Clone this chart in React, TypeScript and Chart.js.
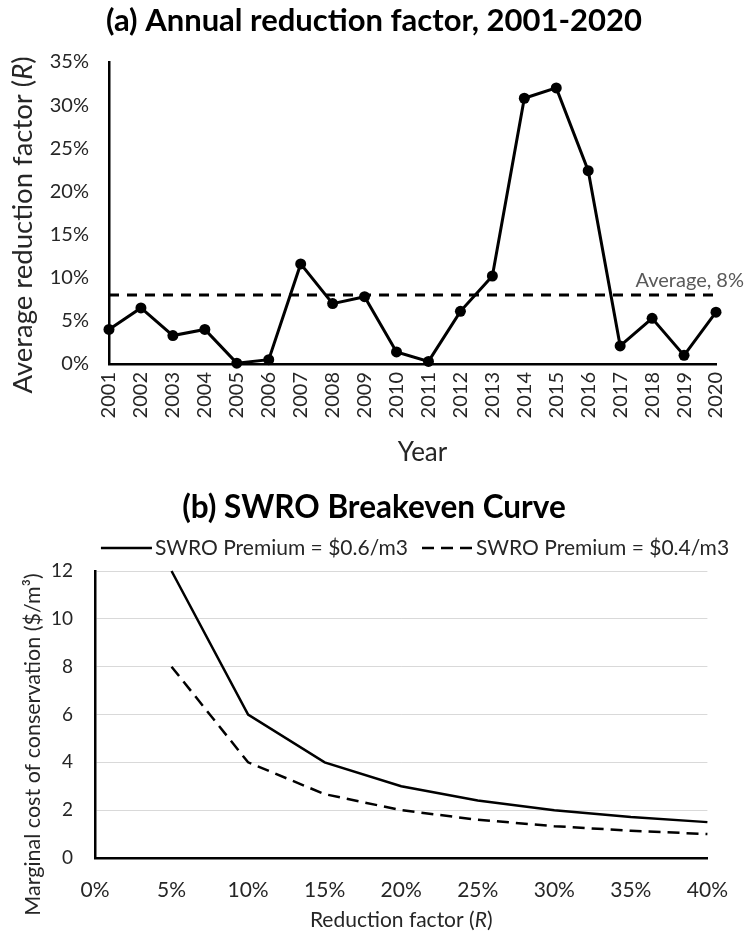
import React, { useEffect, useRef } from "react";
import { Chart, registerables } from "chart.js";

Chart.register(...registerables);

// ---------- data ----------
const YEARS = [
  "2001", "2002", "2003", "2004", "2005", "2006", "2007", "2008", "2009", "2010",
  "2011", "2012", "2013", "2014", "2015", "2016", "2017", "2018", "2019", "2020",
];
const REDUCTION_PCT = [
  4.0, 6.5, 3.3, 4.0, 0.1, 0.5, 11.6, 7.0, 7.8, 1.4,
  0.3, 6.1, 10.2, 30.8, 32.0, 22.4, 2.1, 5.3, 1.0, 6.0,
];
const AVERAGE_PCT = 8;
const AVERAGE_LABEL = "Average, 8%";

const R_PCT = [5, 10, 15, 20, 25, 30, 35, 40];
const COST_PREMIUM_06 = [12, 6, 4, 3, 2.4, 2, 1.71, 1.5];
const COST_PREMIUM_04 = [8, 4, 2.67, 2, 1.6, 1.33, 1.14, 1.0];
const SERIES_LABELS = ["SWRO Premium = $0.6/m3", "SWRO Premium = $0.4/m3"];

const TITLE_A = "(a) Annual reduction factor, 2001-2020";
const TITLE_B = "(b) SWRO Breakeven Curve";

const FONT = "Lato, 'Open Sans', sans-serif";
const TEXT = "#262626";

type Part = { text: string; italic?: boolean };

function drawRich(
  ctx: CanvasRenderingContext2D,
  parts: Part[],
  cx: number,
  cy: number,
  size: number,
  weight: string,
  color: string,
  rotate: boolean
) {
  ctx.save();
  ctx.translate(cx, cy);
  if (rotate) ctx.rotate(-Math.PI / 2);
  const fonts = parts.map((p) => `${p.italic ? "italic " : ""}${weight} ${size}px ${FONT}`);
  let total = 0;
  const widths = parts.map((p, i) => {
    ctx.font = fonts[i];
    const w = ctx.measureText(p.text).width;
    total += w;
    return w;
  });
  let x = -total / 2;
  ctx.fillStyle = color;
  ctx.textBaseline = "middle";
  ctx.textAlign = "left";
  parts.forEach((p, i) => {
    ctx.font = fonts[i];
    ctx.fillText(p.text, x, 0);
    x += widths[i];
  });
  ctx.restore();
}

const textPluginA = {
  id: "textA",
  beforeDatasetsDraw(chart: any) {
    const { ctx, chartArea } = chart;
    const y = chart.scales.y.getPixelForValue(AVERAGE_PCT);
    ctx.save();
    ctx.strokeStyle = "#000";
    ctx.lineWidth = 3;
    ctx.setLineDash([10, 8]);
    ctx.beginPath();
    ctx.moveTo(chartArea.left, y);
    ctx.lineTo(chartArea.right, y);
    ctx.stroke();
    ctx.restore();
    ctx.save();
    ctx.font = `20px ${FONT}`;
    ctx.fillStyle = "#595959";
    ctx.textAlign = "right";
    ctx.textBaseline = "alphabetic";
    ctx.fillText(AVERAGE_LABEL, chart.width - 4, y - 8);
    ctx.restore();
  },
  afterDraw(chart: any) {
    const { ctx, chartArea } = chart;
    drawRich(ctx, [{ text: TITLE_A }], chart.width / 2, 21, 31, "bold", "#000", false);
    drawRich(
      ctx,
      [{ text: "Average reduction factor (" }, { text: "R", italic: true }, { text: ")" }],
      23,
      (chartArea.top + chartArea.bottom) / 2 + 12,
      27.5,
      "normal",
      TEXT,
      true
    );
    drawRich(ctx, [{ text: "Year" }], (chartArea.left + chartArea.right) / 2 + 10, 453, 26, "normal", TEXT, false);
  },
};

const textPluginB = {
  id: "textB",
  afterDraw(chart: any) {
    const { ctx, chartArea } = chart;
    drawRich(ctx, [{ text: TITLE_B }], chart.width / 2, 38, 31.5, "bold", "#000", false);
    drawRich(
      ctx,
      [{ text: "Marginal cost of conservation ($/m³)" }],
      33,
      (chartArea.top + chartArea.bottom) / 2 + 30,
      21.5,
      "normal",
      TEXT,
      true
    );
    drawRich(
      ctx,
      [{ text: "Reduction factor (" }, { text: "R", italic: true }, { text: ")" }],
      (chartArea.left + chartArea.right) / 2,
      450,
      21,
      "normal",
      TEXT,
      false
    );
    // legend from dataset definitions
    const ds = chart.data.datasets;
    const lineW = 51;
    const gapLine = 3;
    const gapItem = 14;
    ctx.save();
    ctx.font = `21px ${FONT}`;
    const textW = ds.map((d: any) => ctx.measureText(d.label).width);
    const total =
      ds.length * (lineW + gapLine) + textW.reduce((a: number, b: number) => a + b, 0) + gapItem * (ds.length - 1);
    let x = 415 - total / 2;
    const ly = 78;
    ds.forEach((d: any, i: number) => {
      ctx.strokeStyle = d.borderColor;
      ctx.lineWidth = d.borderWidth;
      ctx.setLineDash(d.borderDash || []);
      ctx.beginPath();
      ctx.moveTo(x, ly);
      ctx.lineTo(x + lineW, ly);
      ctx.stroke();
      x += lineW + gapLine;
      ctx.setLineDash([]);
      ctx.fillStyle = TEXT;
      ctx.textBaseline = "middle";
      ctx.textAlign = "left";
      ctx.fillText(d.label, x, ly);
      x += textW[i] + gapItem;
    });
    ctx.restore();
  },
};

function ChartA() {
  const ref = useRef<HTMLCanvasElement>(null);
  useEffect(() => {
    if (!ref.current) return;
    const chart = new Chart(ref.current, {
      type: "line",
      data: {
        labels: YEARS,
        datasets: [
          {
            data: REDUCTION_PCT,
            borderColor: "#000",
            backgroundColor: "#000",
            borderWidth: 3,
            pointRadius: 5.5,
            pointBackgroundColor: "#000",
            pointBorderWidth: 0,
            tension: 0,
            clip: false as any,
          },
        ],
      },
      options: {
        animation: false,
        responsive: false,
        layout: { padding: { top: 62, left: 0, right: 14, bottom: 0 } },
        plugins: { legend: { display: false }, tooltip: { enabled: false }, title: { display: false } },
        scales: {
          x: {
            offset: false,
            grid: { display: false, drawTicks: false },
            border: { display: true, color: "#000", width: 2.5 },
            ticks: {
              autoSkip: false,
              maxRotation: 90,
              minRotation: 90,
              padding: 8,
              font: { size: 20, family: FONT },
              color: TEXT,
            },
            afterFit: (s: any) => {
              s.height = 106;
            },
          },
          y: {
            min: 0,
            max: 35,
            grid: { display: false, drawTicks: false },
            border: { display: true, color: "#000", width: 2.5 },
            ticks: {
              stepSize: 5,
              padding: 20,
              font: { size: 20, family: FONT },
              color: TEXT,
              callback: (v: any) => `${v}%`,
            },
            afterFit: (s: any) => {
              s.width = 109;
            },
          },
        },
      },
      plugins: [textPluginA],
    });
    return () => chart.destroy();
  }, []);
  return <canvas ref={ref} width={748} height={470} style={{ display: "block" }} />;
}

function ChartB() {
  const ref = useRef<HTMLCanvasElement>(null);
  useEffect(() => {
    if (!ref.current) return;
    const chart = new Chart(ref.current, {
      type: "line",
      data: {
        datasets: [
          {
            label: SERIES_LABELS[0],
            data: R_PCT.map((r, i) => ({ x: r, y: COST_PREMIUM_06[i] })),
            borderColor: "#000",
            borderWidth: 2.5,
            borderDash: [],
            pointRadius: 0,
            tension: 0,
            clip: false as any,
          },
          {
            label: SERIES_LABELS[1],
            data: R_PCT.map((r, i) => ({ x: r, y: COST_PREMIUM_04[i] })),
            borderColor: "#000",
            borderWidth: 2.5,
            borderDash: [12, 7],
            pointRadius: 0,
            tension: 0,
            clip: false as any,
          },
        ],
      },
      options: {
        animation: false,
        responsive: false,
        layout: { padding: { top: 101, left: 0, right: 27, bottom: 0 } },
        plugins: { legend: { display: false }, tooltip: { enabled: false }, title: { display: false } },
        scales: {
          x: {
            type: "linear",
            min: 0,
            max: 40,
            grid: { display: false, drawTicks: false },
            border: { display: true, color: "#000", width: 2.5 },
            ticks: {
              stepSize: 5,
              padding: 20,
              font: { size: 21, family: FONT },
              color: TEXT,
              callback: (v: any) => `${v}%`,
            },
            afterFit: (s: any) => {
              s.height = 78;
            },
          },
          y: {
            min: 0,
            max: 12,
            grid: { display: true, drawTicks: false, color: "#d9d9d9", lineWidth: 1 },
            border: { display: true, color: "#000", width: 2.5 },
            ticks: {
              stepSize: 2,
              padding: 22,
              font: { size: 19, family: FONT },
              color: TEXT,
            },
            afterFit: (s: any) => {
              s.width = 95;
            },
          },
        },
      },
      plugins: [textPluginB],
    });
    return () => chart.destroy();
  }, []);
  return <canvas ref={ref} width={748} height={466} style={{ display: "block" }} />;
}

export default function App() {
  return (
    <div style={{ position: "absolute", left: 0, top: 0, width: 748, height: 936, background: "#fff" }}>
      <ChartA />
      <ChartB />
    </div>
  );
}
